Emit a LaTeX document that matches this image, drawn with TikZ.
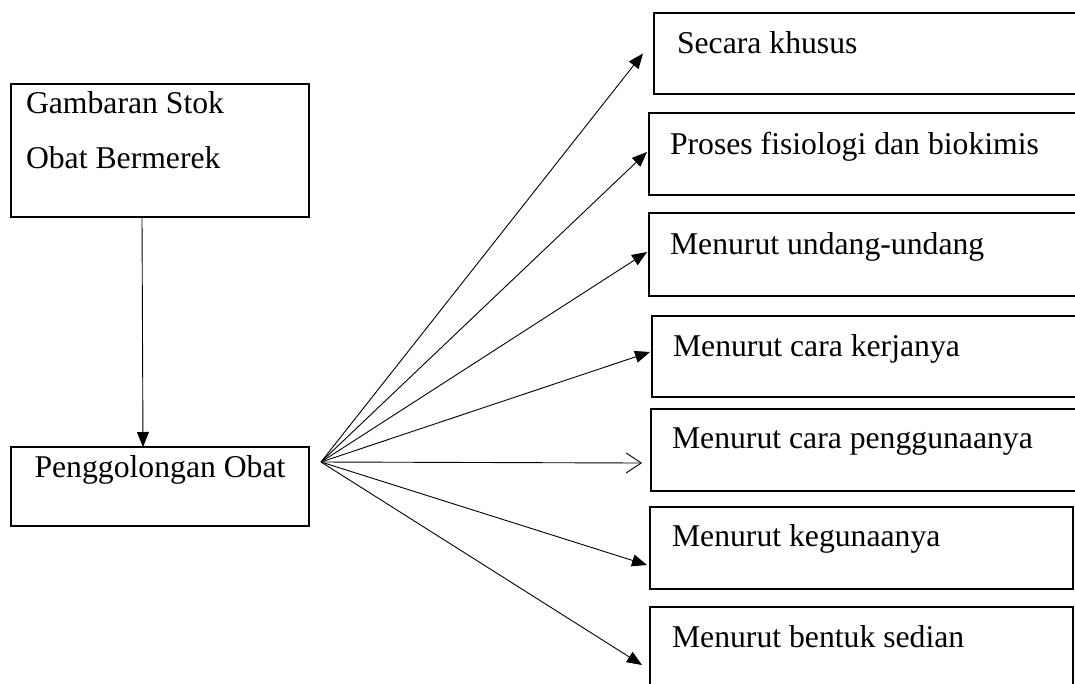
\documentclass[tikz,border=0pt]{standalone}
\usepackage{fontspec}
\setmainfont{Liberation Serif}
\usetikzlibrary{arrows.meta}
\begin{document}
\begin{tikzpicture}[x=1pt,y=-1pt,
  txt/.style={font=\fontsize{31.7}{38}\selectfont},
  box/.style={txt,draw,line width=1.8pt,anchor=north west,inner ysep=0pt,outer sep=0pt},
  conn/.style={line width=0.9pt,-{Triangle[length=15pt,width=12pt]}},
  openconn/.style={line width=0.9pt,-{Straight Barb[length=15pt,width=20pt,line width=0.9pt]}}]
\fill[white] (0,0) rectangle (1075,683);
\useasboundingbox (0,0) rectangle (1075,683);
\clip (0,0) rectangle (1075,683);
% left boxes
\node[box,inner xsep=15pt,text height=84pt,text depth=49pt] (gamb) at (11,84)
  {\makebox[268pt][l]{\begin{tabular}[b]{@{}l@{}}Gambaran Stok\\[17pt]Obat Bermerek\end{tabular}}};
\node[box,inner xsep=0pt,minimum width=298pt,text height=30pt,text depth=49pt] (peng) at (11,447) {Penggolongan Obat};
% right boxes
\node[box,inner xsep=23pt,text height=40pt,text depth=41pt] (a) at (654,13) {\makebox[385pt][l]{Secara khusus}};
\node[box,inner xsep=21pt,text height=41pt,text depth=41pt] (b) at (649,113) {\makebox[394pt][l]{Proses fisiologi dan biokimis}};
\node[box,inner xsep=21pt,text height=41pt,text depth=42pt] (c) at (649,213) {\makebox[394pt][l]{Menurut undang-undang}};
\node[box,inner xsep=21pt,text height=40pt,text depth=41pt] (d) at (652,316) {\makebox[391pt][l]{Menurut cara kerjanya}};
\node[box,inner xsep=21pt,text height=39pt,text depth=43pt] (e) at (651,409) {\makebox[392pt][l]{Menurut cara penggunaanya}};
\node[box,inner xsep=22pt,text height=39pt,text depth=43pt] (f) at (650,507) {\makebox[379pt][l]{Menurut kegunaanya}};
\node[box,inner xsep=22pt,text height=40pt,text depth=45pt] (g) at (650,607) {\makebox[379pt][l]{Menurut bentuk sedian}};
% connectors
\draw[conn] ([xshift=-18pt]gamb.south) -- ([xshift=-17pt]peng.north);
\coordinate (fan) at (321,462);
\draw[conn] (fan) -- ([xshift=-11pt]a.west);
\draw[conn] (fan) -- ([xshift=-2pt,yshift=2pt]b.west);
\draw[conn] (fan) -- ([xshift=-2pt,yshift=2.5pt]c.west);
\draw[conn] (fan) -- ([xshift=-2pt,yshift=4.5pt]d.west);
\draw[openconn] (fan) -- ([xshift=-9pt,yshift=-13pt]e.west);
\draw[conn] (fan) -- ([xshift=-3pt,yshift=-17pt]f.west);
\draw[conn] (fan) -- ([xshift=-8pt,yshift=-58pt]g.north west);
\end{tikzpicture}
\end{document}
